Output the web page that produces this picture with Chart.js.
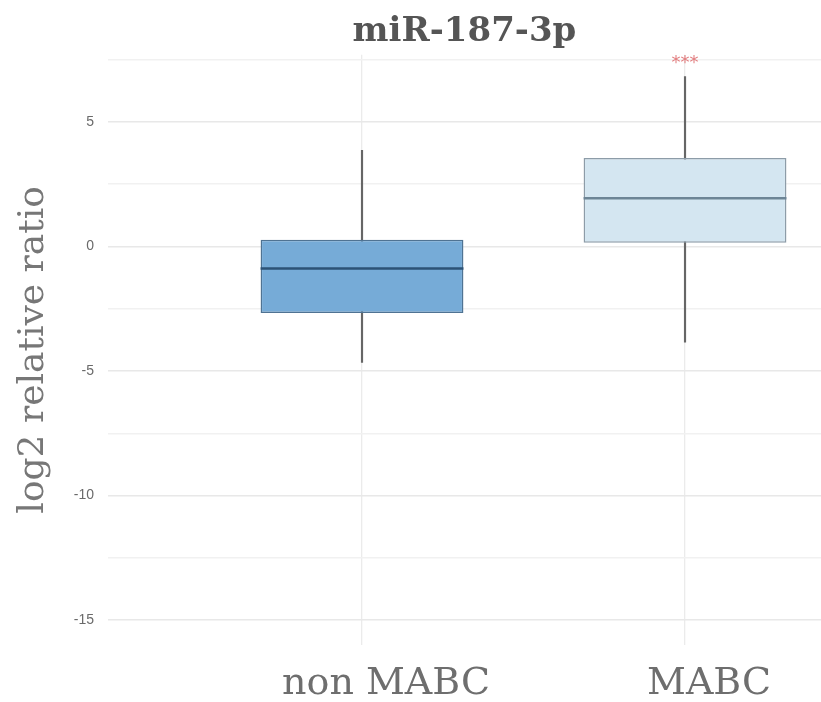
<!DOCTYPE html>
<html>
<head>
<meta charset="utf-8">
<script src="https://cdn.jsdelivr.net/npm/chart.js@4.4.1/dist/chart.umd.min.js"></script>
<style>
  html, body { margin: 0; padding: 0; background: #ffffff; overflow: hidden; }
  #wrap { width: 821px; height: 702px; }
</style>
</head>
<body>
<div id="wrap"><canvas id="c" width="821" height="702"></canvas></div>
<script>
// ---- data ----
const categories = ['non MABC', 'MABC'];
const whiskerLow = [-4.65, -3.84];
const q1 = [-2.67, 0.15];
const median = [-0.88, 1.94];
const q3 = [0.27, 3.56];
const whiskerHigh = [3.86, 6.83];
const significance = ['', '***'];
const yTickValues = [-15, -12.5, -10, -7.5, -5, -2.5, 0, 2.5, 5, 7.5];
const yLabeledTicks = [-15, -10, -5, 0, 5];

// ---- styles ----
const boxFill = ['#76abd7', '#d4e6f1'];
const boxBorder = ['#4f7393', '#8d9ca8'];
const medianColor = ['#2c5276', '#6d8596'];
const xPos = categories.map((c, i) => i + 1);

const medianPlugin = {
  id: 'medianLines',
  afterDatasetsDraw(chart) {
    const ctx = chart.ctx;
    const xs = chart.scales.x, ys = chart.scales.y;
    const meta = chart.getDatasetMeta(0);
    ctx.save();
    categories.forEach((c, i) => {
      const bar = meta.data[i];
      const cx = xs.getPixelForValue(xPos[i]);
      const half = bar.width / 2;
      const y = ys.getPixelForValue(median[i]);
      ctx.strokeStyle = medianColor[i];
      ctx.lineWidth = 2.5;
      ctx.beginPath();
      ctx.moveTo(cx - half, y);
      ctx.lineTo(cx + half, y);
      ctx.stroke();
      if (significance[i]) {
        ctx.fillStyle = '#e27d7f';
        ctx.font = '18px "DejaVu Sans"';
        ctx.textAlign = 'center';
        ctx.textBaseline = 'middle';
        ctx.fillText(significance[i], cx, ys.getPixelForValue(whiskerHigh[i]) - 13);
      }
    });
    ctx.restore();
  }
};

new Chart(document.getElementById('c'), {
  type: 'bar',
  data: {
    datasets: [
      {
        label: 'box',
        data: categories.map((c, i) => ({ x: xPos[i], y: [q1[i], q3[i]] })),
        backgroundColor: boxFill,
        borderColor: boxBorder,
        borderWidth: 1.5,
        borderSkipped: false,
        grouped: false,
        barPercentage: 1,
        categoryPercentage: 0.628,
        order: 0
      },
      {
        label: 'whisker',
        data: categories.map((c, i) => ({ x: xPos[i], y: [whiskerLow[i], whiskerHigh[i]] })),
        backgroundColor: '#666666',
        borderWidth: 0,
        grouped: false,
        barThickness: 1.5,
        order: 1
      }
    ]
  },
  options: {
    responsive: false,
    animation: false,
    devicePixelRatio: 1,
    layout: { padding: 0 },
    plugins: {
      legend: { display: false },
      tooltip: { enabled: false },
      title: {
        display: true,
        text: 'miR-187-3p',
        fullSize: false,
        color: '#555555',
        font: { family: '"DejaVu Serif"', size: 34, weight: 'bold' },
        padding: { top: 12, bottom: 2 }
      }
    },
    scales: {
      x: {
        type: 'linear',
        offset: false,
        min: 0.2136,
        max: 2.421,
        afterBuildTicks(scale) { scale.ticks = xPos.map(v => ({ value: v })); },
        afterFit(scale) { scale.height = 57; },
        border: { display: false },
        grid: { color: '#ebebeb', lineWidth: 1.3, drawTicks: false, offset: false },
        ticks: {
          padding: 16,
          labelOffset: 24,
          color: '#6e6e6e',
          font: { family: '"DejaVu Serif"', size: 38 },
          callback: (v) => categories[xPos.indexOf(v)] || ''
        }
      },
      y: {
        min: -16,
        max: 7.7,
        afterBuildTicks(scale) { scale.ticks = yTickValues.map(v => ({ value: v })); },
        afterFit(scale) { scale.width = 108; },
        border: { display: false },
        grid: {
          drawTicks: false,
          lineWidth: 1.6,
          color: (ctx) => yLabeledTicks.includes(ctx.tick && ctx.tick.value) ? '#e8e8e8' : '#f1f1f1'
        },
        ticks: {
          padding: 14,
          color: '#6a6a6a',
          font: { family: '"Liberation Sans"', size: 14 },
          callback: (v) => yLabeledTicks.includes(v) ? String(v) : ''
        },
        title: {
          display: true,
          text: 'log2 relative ratio',
          color: '#777777',
          font: { family: '"DejaVu Serif"', size: 36 },
          padding: { top: 12, bottom: 0 }
        }
      }
    }
  },
  plugins: [medianPlugin]
});
</script>
</body>
</html>
